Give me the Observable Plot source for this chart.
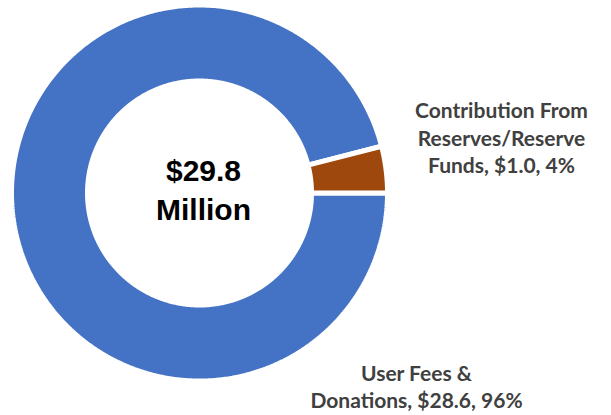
<!DOCTYPE html>
<html>
<head>
<meta charset="utf-8">
<script src="https://cdn.jsdelivr.net/npm/d3@7"></script>
<script src="https://cdn.jsdelivr.net/npm/@observablehq/plot@0.6"></script>
<style>
  html, body { margin: 0; padding: 0; background: #fff; }
  #chart { width: 611px; height: 415px; }
</style>
</head>
<body>
<div id="chart"></div>
<script>
// ---- data ----
const categories = ["User Fees & Donations", "Contribution From Reserves/Reserve Funds"];
const amounts = [28.6, 1.0];          // $ millions
const percents = [96, 4];             // share of total (%)
const colors = ["#4472C4", "#9E480E"];
const labelLines = [
  ["User Fees &", "Donations, $28.6, 96%"],
  ["Contribution From", "Reserves/Reserve", "Funds, $1.0, 4%"]
];
const centerLines = ["$29.8", "Million"];

// ---- layout ----
const W = 611, H = 415;
const cx = 199, cy = 192.5, R = 188, r = 112;
const startAngle = 90;   // first slice starts at 3 o'clock, clockwise
const labelLayout = [
  {x: 416, y: [380, 407]},
  {x: 501, y: [117, 145, 172]}
];
const centerLayout = {x: 203, y: [180, 219]};

// ---- slices via d3.pie ----
const pie = d3.pie().sort(null)
  .startAngle(startAngle * Math.PI / 180)
  .endAngle((startAngle + 360) * Math.PI / 180);
const arcs = pie(percents);

function ring(a) {
  const n = Math.max(8, Math.ceil((a.endAngle - a.startAngle) * 180 / Math.PI * 2));
  const pts = [];
  for (let i = 0; i <= n; i++) {
    const t = a.startAngle + (a.endAngle - a.startAngle) * i / n;
    pts.push({x: cx + R * Math.sin(t), y: cy - R * Math.cos(t)});
  }
  for (let i = n; i >= 0; i--) {
    const t = a.startAngle + (a.endAngle - a.startAngle) * i / n;
    pts.push({x: cx + r * Math.sin(t), y: cy - r * Math.cos(t)});
  }
  pts.push(pts[0]);
  return pts;
}

const sliceMarks = arcs.map((a, i) =>
  Plot.line(ring(a), {x: "x", y: "y", fill: colors[i], stroke: "white", strokeWidth: 5, strokeLinejoin: "miter", curve: "linear"})
);

const labelRows = [];
labelLines.forEach((lines, i) => lines.forEach((t, j) =>
  labelRows.push({text: t, x: labelLayout[i].x, y: labelLayout[i].y[j]})));
const centerRows = centerLines.map((t, j) => ({text: t, x: centerLayout.x, y: centerLayout.y[j]}));

const chart = Plot.plot({
  width: W, height: H,
  margin: 0,
  x: {domain: [0, W], range: [0, W], axis: null},
  y: {domain: [0, H], range: [0, H], axis: null},
  marks: [
    ...sliceMarks,
    Plot.text(labelRows, {x: "x", y: "y", text: "text", lineAnchor: "bottom", textAnchor: "middle",
      fill: "#404040", fontSize: 21, fontWeight: "bold", fontFamily: "Lato"}),
    Plot.text(centerRows, {x: "x", y: "y", text: "text", lineAnchor: "bottom", textAnchor: "middle",
      fill: "#000", fontSize: 30, fontWeight: "bold", fontFamily: "Liberation Sans"})
  ]
});
document.getElementById("chart").appendChild(chart);
</script>
</body>
</html>
